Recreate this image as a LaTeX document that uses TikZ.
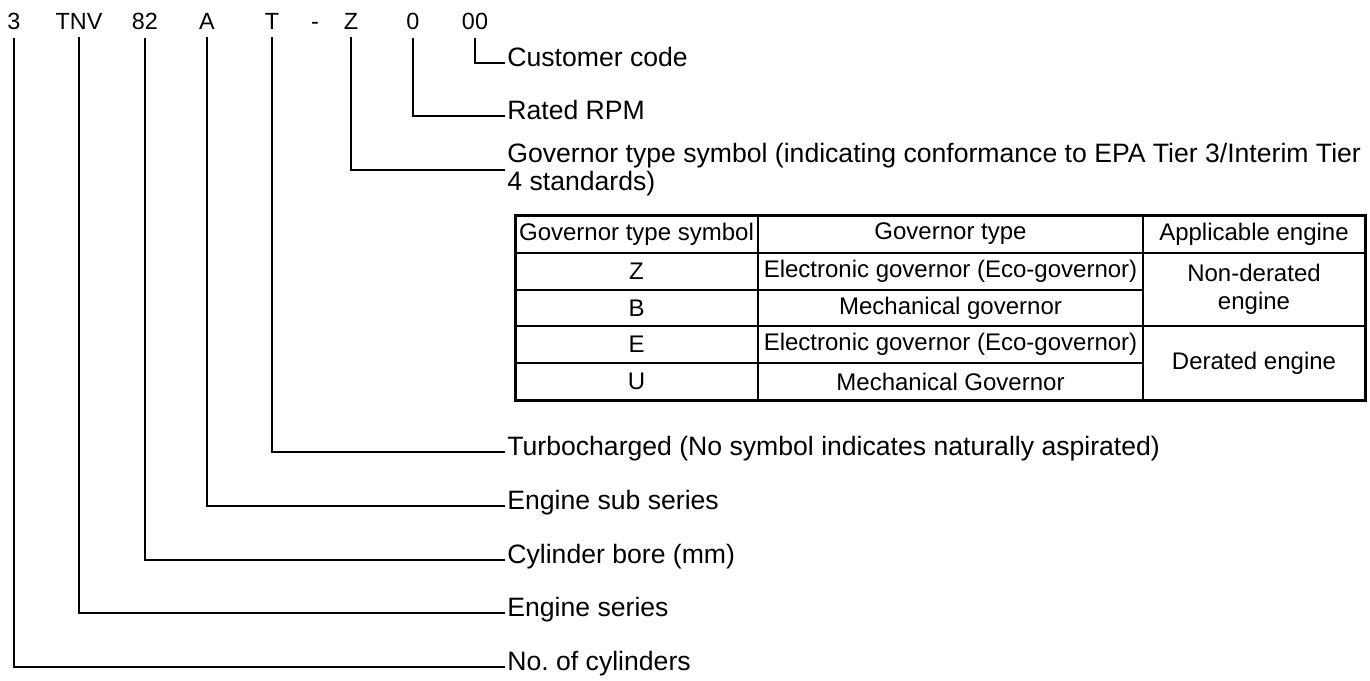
\documentclass[tikz,border=0pt]{standalone}
\usepackage{fontspec}
\setmainfont{Liberation Sans}

\begin{document}
\begin{tikzpicture}[x=0.5pt,y=-0.5pt,
		codepart/.style={anchor=base,inner sep=4pt,font=\fontsize{11.7}{14}\selectfont},
		lbl/.style={anchor=base west,inner sep=1pt,font=\fontsize{13.3}{14}\selectfont},
		lead/.style={line width=0.7pt},
		cell/.style={inner sep=0pt,align=center,font=\fontsize{12}{14}\selectfont}]
		\useasboundingbox (0,0) rectangle (1370,680);
		\node[codepart] (cyl) at (14,29) {3};
		\node[codepart] (series) at (79,29) {TNV};
		\node[codepart] (bore) at (145,29) {82};
		\node[codepart] (sub) at (207,29) {A};
		\node[codepart] (turbo) at (272,29) {T};
		\node[codepart] (hyph) at (315,29) {-};
		\node[codepart] (gov) at (351,29) {Z};
		\node[codepart] (rpm) at (413,29) {0};
		\node[codepart] (cust) at (475,29) {00};
		\node[lbl] (custL) at (505,66) {Customer code};
		\node[lbl] (rpmL) at (505,119) {Rated RPM};
		\node[lbl,anchor=west,align=left] (govL) at (505,170) {Governor type symbol (indicating conformance to EPA Tier 3/Interim Tier\\4 standards)};
		\node[lbl] (turboL) at (505,455) {Turbocharged (No symbol indicates naturally aspirated)};
		\node[lbl] (subL) at (505,509) {Engine sub series};
		\node[lbl] (boreL) at (505,563) {Cylinder bore (mm)};
		\node[lbl] (seriesL) at (505,616) {Engine series};
		\node[lbl] (cylL) at (505,670) {No.\ of cylinders};
		\draw[lead] (cust.south) |- ([yshift=1.5pt]custL.base west);
		\draw[lead] (rpm.south) |- ([yshift=1.5pt]rpmL.base west);
		\draw[lead] (gov.south) |- (govL.west);
		\draw[lead] (turbo.south) |- ([yshift=1.5pt]turboL.base west);
		\draw[lead] (sub.south) |- ([yshift=1.5pt]subL.base west);
		\draw[lead] (bore.south) |- ([yshift=1.5pt]boreL.base west);
		\draw[lead] (series.south) |- ([yshift=1.5pt]seriesL.base west);
		\draw[lead] (cyl.south) |- ([yshift=1.5pt]cylL.base west);
		\draw[line width=0.6pt] (515,253) -- (1365,253);
		\draw[line width=0.6pt] (515,290) -- (1143,290);
		\draw[line width=0.6pt] (515,326) -- (1365,326);
		\draw[line width=0.6pt] (515,363) -- (1143,363);
		\draw[line width=0.6pt] (758,215) -- (758,400);
		\draw[line width=0.6pt] (1143,215) -- (1143,400);
		\draw[line width=1.5pt] (515,215) rectangle (1365,400);
		\node[cell] (hSym) at (636.5,234) {Governor type symbol};
		\node[cell] (hType) at (950.5,234) {Governor type};
		\node[cell] (hEng) at (1254,234) {Applicable engine};
		\node[cell] (sZ) at (636.5,271.5) {Z};
		\node[cell] (tZ) at (950.5,271.5) {Electronic governor (Eco-governor)};
		\node[cell] (sB) at (636.5,308) {B};
		\node[cell] (tB) at (950.5,308) {Mechanical governor};
		\node[cell] (eNon) at (1254,289.5) {Non-derated\\engine};
		\node[cell] (sE) at (636.5,344.5) {E};
		\node[cell] (tE) at (950.5,344.5) {Electronic governor (Eco-governor)};
		\node[cell] (sU) at (636.5,381.5) {U};
		\node[cell] (tU) at (950.5,381.5) {Mechanical Governor};
		\node[cell] (eDer) at (1254,363) {Derated engine};
\end{tikzpicture}
\end{document}
